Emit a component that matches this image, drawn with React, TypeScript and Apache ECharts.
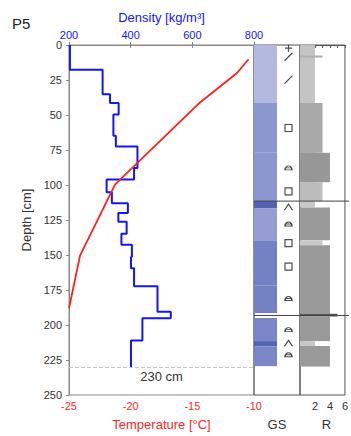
import React, { useEffect, useRef } from 'react';
import * as echarts from 'echarts';

// ---------- data ----------
const tempDepth = [10.2, 20, 42, 99.5, 150.3, 188];
const tempValue = [-10.44, -11.38, -14.5, -21.26, -24.1, -25];

const densityBoundaries = [0, 17.7, 35.2, 41.5, 49.7, 64.9, 72.5, 87.8, 96, 105.2, 113, 120, 126.3, 134.9, 142.6, 151.5, 159.4, 172.3, 190.5, 195.1, 211, 230];
const densityValues = [203, 309, 333, 361, 344, 352, 422, 411, 322, 339, 391, 360, 387, 370, 404, 401, 411, 487, 530, 438, 401];

const gsTop = [0, 41.5, 77, 111.5, 116.5, 140, 172, 195, 211.5, 215.3];
const gsBottom = [41.5, 77, 111.5, 116.5, 140, 172, 191.5, 211.5, 215.3, 229.4];
const gsShade = ['#b3b9df', '#8d97cf', '#8d97cf', '#5563b3', '#959dd3', '#7481c2', '#7481c2', '#7a86c6', '#5563b3', '#7a86c6'];

const grainDepth = [2.3, 8.4, 24.7, 59.3, 87.8, 104.6, 115.8, 127.9, 141.5, 158.3, 181.1, 203.3, 213.1, 221.3];
const grainType = ['plus', 'slash', 'slash', 'square', 'rounded', 'square', 'caret', 'rounded', 'square', 'square', 'rounded', 'rounded', 'caret', 'rounded'];

const hardTop = [0, 7.5, 41.5, 77, 98, 111.5, 116, 139.5, 143, 192, 194, 211.5, 215];
const hardBottom = [111.5, 9, 77, 98, 111.5, 116, 139.5, 143, 192, 194, 211.5, 215, 229.7];
const hardValue = [2, 3, 3, 4, 3, 2, 4, 3, 4, 5, 4, 2, 4];
const hardShade = ['#c4c4c4', '#b0b0b0', '#a9a9a9', '#979797', '#bcbcbc', '#c8c8c8', '#999999', '#c8c8c8', '#999999', '#555555', '#999999', '#c8c8c8', '#999999'];

const layerBoundaries = [111.5, 193.2];
const probeDepth = 230;

const depthTicks = { min: 0, max: 250, interval: 25 };
const tempTicks = { min: -25, max: -10, interval: 5 };
const densityTicks = { min: 200, max: 800, interval: 200 };
const hardTicks = { min: 0, max: 6, interval: 1 };

// ---------- styles ----------
const FONT = 'Liberation Sans, Arial, Helvetica, sans-serif';
const RED = '#ff1f1f';
const BLUE = '#1414ff';

const grainSymbol: Record<string, string> = {
  plus: 'path://M5,0L5,10M0,5L10,5',
  slash: 'path://M0,10L10,0',
  square: 'path://M0,0L10,0L10,10L0,10Z',
  rounded: 'path://M0,8A5,5,0,0,1,10,8ZM1.5,5.5L8.5,5.5',
  caret: 'path://M0,8L5,0L10,8',
};
const grainSize: Record<string, number[]> = {
  plus: [7, 7],
  slash: [8, 8],
  square: [7, 7],
  rounded: [7, 4],
  caret: [8, 6],
};

function buildOption() {
  const densityPoints: number[][] = [];
  densityValues.forEach((v, i) => {
    densityPoints.push([v, densityBoundaries[i]]);
    densityPoints.push([v, densityBoundaries[i + 1]]);
  });

  const rectItem = (shades: string[]) => (params: any, api: any) => {
    const i = params.dataIndex;
    const p1 = api.coord([0, api.value(0)]);
    const p2 = api.coord([api.value(2), api.value(1)]);
    return {
      type: 'rect',
      shape: { x: p1[0], y: p1[1], width: p2[0] - p1[0], height: p2[1] - p1[1] },
      style: { fill: shades[i] },
    };
  };

  const dividerItem = (ext: number) => (params: any, api: any) => {
    const cs = params.coordSys;
    const y = api.coord([0, api.value(1)])[1];
    return {
      type: 'line',
      shape: { x1: cs.x, y1: y, x2: cs.x + cs.width + ext, y2: y },
      style: { stroke: '#444', lineWidth: 1 },
    };
  };

  const depthAxisHidden = (gridIndex: number) => ({
    type: 'value',
    gridIndex,
    inverse: true,
    ...depthTicks,
    show: false,
  });

  return {
    animation: false,
    textStyle: { fontFamily: FONT },
    title: {
      text: 'P5',
      left: 7,
      top: 11,
      textStyle: { fontSize: 15, fontWeight: 'normal', color: '#222', fontFamily: FONT },
    },
    grid: [
      { left: 69, top: 45, width: 185, height: 357, show: true, borderColor: '#888', borderWidth: 1 },
      { left: 254, top: 45, width: 46, height: 357, show: true, borderColor: '#555', borderWidth: 1 },
      { left: 300, top: 45, width: 47, height: 357, show: true, borderColor: '#555', borderWidth: 1 },
    ],
    xAxis: [
      {
        type: 'value',
        gridIndex: 0,
        position: 'bottom',
        ...tempTicks,
        name: 'Temperature [°C]',
        nameLocation: 'middle',
        nameGap: 23,
        nameTextStyle: { color: RED, fontSize: 13, fontFamily: FONT },
        axisLine: { show: true, lineStyle: { color: '#888' } },
        axisTick: { show: true, length: 3, lineStyle: { color: '#888' } },
        axisLabel: { color: RED, fontSize: 11, margin: 5, fontFamily: FONT },
        splitLine: { show: false },
      },
      {
        type: 'value',
        gridIndex: 0,
        position: 'top',
        ...densityTicks,
        name: 'Density [kg/m³]',
        nameLocation: 'middle',
        nameGap: 14,
        nameTextStyle: { color: BLUE, fontSize: 13, fontFamily: FONT },
        axisLine: { show: true, lineStyle: { color: '#888' } },
        axisTick: { show: true, length: 3, lineStyle: { color: '#7070ff' } },
        axisLabel: { color: BLUE, fontSize: 11, margin: 5, fontFamily: FONT },
        splitLine: { show: false },
      },
      {
        type: 'value',
        gridIndex: 1,
        min: 0,
        max: 2,
        name: 'GS',
        nameLocation: 'middle',
        nameGap: 23,
        nameTextStyle: { color: '#333', fontSize: 13, fontFamily: FONT },
        axisLine: { show: false },
        axisTick: { show: false },
        axisLabel: { show: false },
        splitLine: { show: false },
      },
      {
        type: 'value',
        gridIndex: 2,
        ...hardTicks,
        name: 'R',
        nameLocation: 'middle',
        nameGap: 23,
        nameTextStyle: { color: '#333', fontSize: 13, fontFamily: FONT, padding: [0, 0, 0, 8] },
        axisLine: { show: true, lineStyle: { color: '#555' } },
        axisTick: { show: true, length: 3, lineStyle: { color: '#555' } },
        axisLabel: {
          color: '#333',
          fontSize: 11,
          margin: 5,
          fontFamily: FONT,
          formatter: (v: number) => (v > 0 && v % 2 === 0 ? String(v) : ''),
        },
        splitLine: { show: false },
      },
    ],
    yAxis: [
      {
        type: 'value',
        gridIndex: 0,
        inverse: true,
        ...depthTicks,
        name: 'Depth [cm]',
        nameLocation: 'middle',
        nameGap: 29,
        nameTextStyle: { color: '#333', fontSize: 13, fontFamily: FONT },
        axisLine: { show: true, lineStyle: { color: '#888' } },
        axisTick: { show: true, length: 3, lineStyle: { color: '#888' } },
        axisLabel: { color: '#333', fontSize: 11, margin: 7, fontFamily: FONT },
        splitLine: { show: false },
      },
      depthAxisHidden(1),
      depthAxisHidden(2),
    ],
    series: [
      {
        type: 'custom',
        name: 'GS layers',
        xAxisIndex: 2,
        yAxisIndex: 1,
        renderItem: rectItem(gsShade),
        encode: { x: 2, y: [0, 1] },
        data: gsTop.map((t, i) => [t, gsBottom[i], 1]),
        silent: true,
      },
      {
        type: 'custom',
        name: 'R layers',
        xAxisIndex: 3,
        yAxisIndex: 2,
        renderItem: rectItem(hardShade),
        encode: { x: 2, y: [0, 1] },
        data: hardTop.map((t, i) => [t, hardBottom[i], hardValue[i]]),
        silent: true,
      },
      {
        type: 'custom',
        name: 'GS dividers',
        xAxisIndex: 2,
        yAxisIndex: 1,
        renderItem: dividerItem(0),
        encode: { x: 0, y: 1 },
        data: layerBoundaries.map((d) => [0, d]),
        silent: true,
        z: 5,
      },
      {
        type: 'custom',
        name: 'R dividers',
        xAxisIndex: 3,
        yAxisIndex: 2,
        renderItem: dividerItem(4),
        encode: { x: 0, y: 1 },
        data: layerBoundaries.map((d) => [0, d]),
        silent: true,
        z: 5,
      },
      {
        type: 'scatter',
        name: 'Grain shape',
        xAxisIndex: 2,
        yAxisIndex: 1,
        silent: true,
        z: 6,
        itemStyle: { color: 'rgba(0,0,0,0)', borderColor: '#222', borderWidth: 1.2 },
        data: grainDepth.map((d, i) => ({
          value: [1.5, d],
          symbol: grainSymbol[grainType[i]],
          symbolSize: grainSize[grainType[i]],
        })),
      },
      {
        type: 'line',
        name: 'Density',
        xAxisIndex: 1,
        yAxisIndex: 0,
        showSymbol: false,
        symbol: 'none',
        lineStyle: { color: BLUE, width: 2 },
        itemStyle: { color: BLUE },
        data: densityPoints,
        z: 3,
        markLine: {
          silent: true,
          symbol: ['none', 'none'],
          lineStyle: { color: '#c8c8c8', type: 'dashed', width: 1 },
          label: {
            show: true,
            formatter: `${probeDepth} cm`,
            position: 'insideMiddleBottom',
            distance: 3,
            color: '#333',
            fontSize: 13,
            fontFamily: FONT,
          },
          data: [{ yAxis: probeDepth }],
        },
      },
      {
        type: 'line',
        name: 'Temperature',
        xAxisIndex: 0,
        yAxisIndex: 0,
        showSymbol: false,
        symbol: 'none',
        lineStyle: { color: RED, width: 1.8 },
        itemStyle: { color: RED },
        data: tempDepth.map((d, i) => [tempValue[i], d]),
        z: 4,
      },
    ],
  };
}

export default function App() {
  const ref = useRef<HTMLDivElement>(null);
  useEffect(() => {
    if (!ref.current) return;
    const chart = echarts.init(ref.current, undefined, { renderer: 'svg' });
    chart.setOption(buildOption() as any);
    return () => chart.dispose();
  }, []);
  return (
    <div
      ref={ref}
      style={{ position: 'absolute', left: 0, top: 0, width: 351, height: 436, background: '#fff' }}
    />
  );
}
